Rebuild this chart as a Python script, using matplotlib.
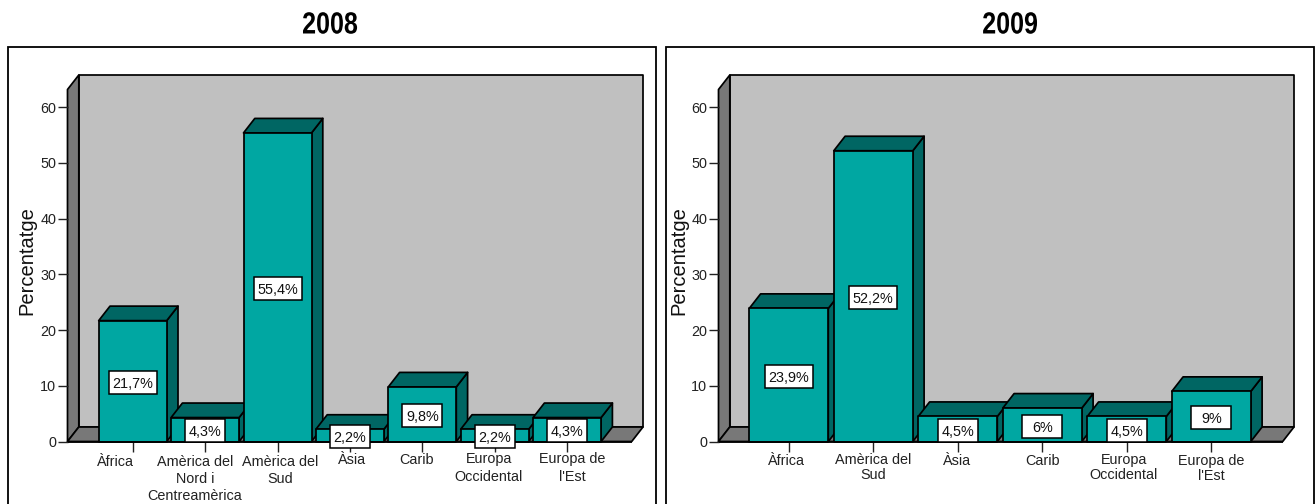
import matplotlib
matplotlib.use("Agg")
import matplotlib.pyplot as plt
from matplotlib.patches import Polygon, Rectangle
from matplotlib.patheffects import AbstractPathEffect
from matplotlib.transforms import Affine2D

W, H = 1315, 504
plt.rcParams['font.family'] = ['Liberation Sans', 'DejaVu Sans']

# Data
years = ['2008', '2009']
categories_2008 = ['Àfrica', 'Amèrica del\nNord i\nCentreamèrica', 'Amèrica del\nSud', 'Àsia',
                   'Carib', 'Europa\nOccidental', 'Europa de\nl\'Est']
values_2008 = [21.7, 4.3, 55.4, 2.2, 9.8, 2.2, 4.3]
labels_2008 = ['21,7%', '4,3%', '55,4%', '2,2%', '9,8%', '2,2%', '4,3%']
categories_2009 = ['Àfrica', 'Amèrica del\nSud', 'Àsia', 'Carib', 'Europa\nOccidental', 'Europa de\nl\'Est']
values_2009 = [23.9, 52.2, 4.5, 6.0, 4.5, 9.0]
labels_2009 = ['23,9%', '52,2%', '4,5%', '6%', '4,5%', '9%']
y_ticks = [0, 10, 20, 30, 40, 50, 60]

# Colours
FRONT, SIDE, WALL, SHADE = '#00A7A2', '#006663', '#C0C0C0', '#787878'

# Layout in pixels
Y0, PX_PER_UNIT, Y_TOP = 441.5, 5.57, 75.0
DX, DY = 11.3, 14.5
panels = [
    dict(frame=(8, 655.5), x0=67.5, x1=643.0, c0=132.7, step=72.4, width=68.0, title_x=330, ylab_x=27,
         nudge=[-17, -10, 3, 2, -6, -6, 5], line=18.0, lab_y=[454.5, 454.5, 454.5, 452.5, 452.5, 452.5, 452.5]),
    dict(frame=(666, 1313.5), x0=718.5, x1=1294.0, c0=788.8, step=84.5, width=79.0, title_x=1010, ylab_x=679,
         nudge=[-2, 0, -1, 0, -3, 0], line=15.8, lab_y=[454, 453, 454, 454, 453, 454]),
]
series = [(categories_2008, values_2008, labels_2008), (categories_2009, values_2009, labels_2009)]


class Condense(AbstractPathEffect):
    """Narrows drawn glyphs horizontally about a fixed display x."""

    def __init__(self, cx, sx):
        super().__init__()
        self.cx, self.sx = cx, sx

    def draw_path(self, renderer, gc, tpath, affine, rgbFace=None):
        squeeze = Affine2D().translate(-self.cx, 0).scale(self.sx, 1).translate(self.cx, 0)
        renderer.draw_path(gc, tpath, affine + squeeze, rgbFace)


fig = plt.figure(figsize=(W / 100, H / 100), dpi=100, facecolor='white')

for year, p, (cats, vals, labs) in zip(years, panels, series):
    # Panel frame runs off the lower edge of the figure
    fig.add_artist(Rectangle((p['frame'][0] / W, -0.02), (p['frame'][1] - p['frame'][0]) / W,
                             (H - 46.5) / H + 0.02, transform=fig.transFigure,
                             fc='white', ec='black', lw=1.3, zorder=-1))
    fig.text(p['title_x'] / W, 1 - 25.5 / H, year, ha='center', va='center', fontsize=22, fontweight='bold',
             path_effects=[Condense(p['title_x'], 0.82)])

    ax = fig.add_axes([p['x0'] / W, 1 - Y0 / H, (p['x1'] - p['x0']) / W, (Y0 - Y_TOP) / H])
    ax.patch.set_visible(False)
    for s in ax.spines.values():
        s.set_visible(False)
    ax.set_ylim(0, (Y0 - Y_TOP) / PX_PER_UNIT)
    ax.set_xlim((p['x0'] - p['c0']) / p['step'], (p['x1'] - p['c0']) / p['step'])

    dx = DX / p['step']
    dy = DY / PX_PER_UNIT
    xl, xr = ax.get_xlim()
    yt = ax.get_ylim()[1]
    edge = dict(ec='black', lw=1.25, joinstyle='round', clip_on=False)

    # Back wall, side wall and floor of the box
    ax.add_patch(Polygon([(xl + dx, dy), (xl + dx, yt), (xr, yt), (xr, dy)], fc=WALL, zorder=1, **edge))
    ax.add_patch(Polygon([(xl, 0), (xl, yt - dy), (xl + dx, yt), (xl + dx, dy)], fc=SHADE, zorder=1, **edge))
    ax.add_patch(Polygon([(xl, 0), (xl + dx, dy), (xr, dy), (xr - dx, 0)], fc=SHADE, zorder=1, **edge))

    bw = p['width'] / p['step'] / 2
    for i, v in enumerate(vals):
        z = 2 + i * 0.1
        ax.add_patch(Polygon([(i + bw, 0), (i + bw + dx, dy), (i + bw + dx, v + dy), (i + bw, v)],
                             fc=SIDE, zorder=z, **edge))
        ax.add_patch(Polygon([(i - bw, v), (i - bw + dx, v + dy), (i + bw + dx, v + dy), (i + bw, v)],
                             fc=SIDE, zorder=z, **edge))
        ax.add_patch(Rectangle((i - bw, 0), 2 * bw, v, fc=FRONT, zorder=z, **edge))

    # Baseline over the bars and floor
    ax.plot([xl, xr - dx], [0, 0], color='black', lw=1.3, zorder=4, clip_on=False, solid_capstyle='butt')

    # Value boxes, centred on each bar's midpoint
    for i, (v, lab) in enumerate(zip(vals, labs)):
        w_px = 48 if len(lab) > 4 else 40
        h_px = 23
        cy = v / 2 - 1.3 / PX_PER_UNIT
        ax.add_patch(Rectangle((i - w_px / 2 / p['step'], cy - h_px / 2 / PX_PER_UNIT),
                               w_px / p['step'], h_px / PX_PER_UNIT,
                               fc='white', ec='black', lw=1.1, zorder=6, clip_on=False))
        ax.text(i, cy, lab, ha='center', va='center_baseline', fontsize=10.4, color='#111111', zorder=7)

    ax.set_yticks(y_ticks)
    ax.set_xticks(range(len(cats)))
    ax.set_xticklabels([])
    ax.tick_params(axis='both', length=7.2, width=1.0, color='#222222', labelsize=10.4,
                   pad=1.0, labelcolor='#222222')

    # Category names sit under their ticks with hand-set offsets
    for i, cat in enumerate(cats):
        fig.text((p['c0'] + i * p['step'] + p['nudge'][i]) / W, 1 - p['lab_y'][i] / H, cat, ha='center', va='top',
                 fontsize=10.4, color='#222222', linespacing=p['line'] / 14.0)

    fig.text(p['ylab_x'] / W, 1 - 260.5 / H, 'Percentatge', rotation=90, ha='center', va='center',
             fontsize=14.5, color='#111111')

fig.savefig('out.png', dpi=100)
